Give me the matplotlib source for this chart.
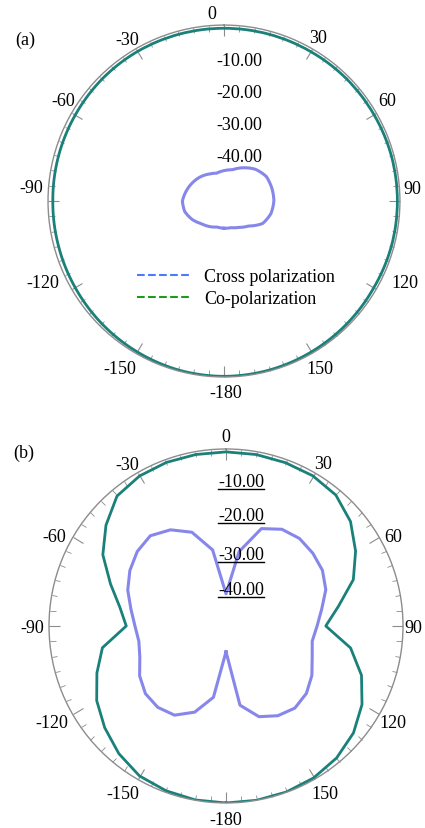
import numpy as np
import matplotlib
matplotlib.use('Agg')
import matplotlib.pyplot as plt
from matplotlib.lines import Line2D
from matplotlib import transforms

plt.rcParams['font.family'] = 'Liberation Serif'
plt.rcParams['font.size'] = 13

# (a) pattern, sampled every 15 degrees
ang_a = np.arange(-180, 181, 15)
co_a = [-0.2, -0.3, -0.6, -0.9, -1.2, -1.4, -1.5, -1.4, -1.3, -1.1, -1.0, -1.0, -1.0,
        -1.0, -1.0, -0.9, -0.9, -0.8, -0.8, -0.8, -0.9, -0.7, -0.5, -0.3, -0.2]
cross_a = [-46.5, -46.6, -45.8, -45.0, -43.5, -42.3, -42.0, -42.8, -43.6, -44.4, -45.3, -46.0, -45.5,
           -44.9, -43.0, -41.0, -39.7, -39.5, -39.4, -39.8, -41.0, -44.0, -45.5, -46.4, -46.5]

# (b) pattern, sampled every 10 degrees
ang_b = np.arange(-180, 181, 10)
co_b = [0.0, -0.1, -0.5, -1.2, -3.2, -5.8, -8.6, -12.3, -16.0, -24.0, -21.5, -16.8, -10.8, -6.3,
        -2.3, -1.2, -0.9, -0.9, -0.9, -0.9, -1.0, -1.1, -1.9, -4.5, -8.5, -12.9, -19.5, -24.0,
        -15.7, -10.2, -6.2, -3.3, -1.5, -0.5, -0.1, 0.0, 0.0]
cross_b = [-47.0, -32.5, -26.5, -23.0, -22.0, -22.3, -24.0, -26.5, -27.5, -26.7, -25.0, -22.5,
           -20.5, -19.0, -18.4, -20.5, -24.0, -31.0, -45.0, -31.5, -22.8, -20.3, -19.5, -19.8,
           -20.4, -22.0, -24.8, -26.7, -27.8, -26.5, -24.2, -22.4, -21.7, -22.8, -25.0, -30.0, -47.0]

theta_ticks = np.arange(0, 360, 30)
theta_labels = ['0', '30', '60', '90', '120', '150', '-180', '-150', '-120', '-90', '-60', '-30']
r_labels = ['-10.00', '-20.00', '-30.00', '-40.00']
rlab_pos_a = [-10, -20, -30, -40]
rlab_pos_b = [-9.3, -19.6, -32.0, -42.6]

# small pixel nudges (right, down) for the angle labels, as placed in the original
nudge_a = [(-12, 1), (-1, 0), (-1.5, -7), (-2, -14), (16.5, -15), (1, 1.5),
           (2, 1), (-9, 1.5), (-16.5, -15), (-3, -15), (3.5, -7), (-2, 1.5)]
nudge_b = [(0, 2), (1, 3), (1, 6), (-5, 1), (1, 0), (3, 0),
           (0, 1), (-7, 0), (-8, 0), (-2, 1), (-5, 6), (-3, 4)]

teal = '#1a807a'
lav = '#8787eb'
gray = '#8c8c8c'

fig = plt.figure(figsize=(4.25, 8.29), dpi=100)
ax1 = fig.add_axes([0.113, 0.544, 0.828, 0.4246], projection='polar')
ax2 = fig.add_axes([0.1153, 0.0302, 0.833, 0.427], projection='polar')


def setup(ax, rpos, nudges, dist):
    ax.set_theta_zero_location('N')
    ax.set_theta_direction(-1)
    ax.set_ylim(-55, 0)
    ax.set_thetagrids(theta_ticks)
    ax.set_xticks(np.deg2rad(np.arange(0, 360, 5)), minor=True)
    ax.set_yticks([])
    ax.grid(False)
    ax.spines['polar'].set_color(gray)
    ax.spines['polar'].set_linewidth(1.0)
    ax.tick_params(axis='x', which='both', top=True, bottom=False, direction='in', color=gray,
                   labelbottom=False, labeltop=False)
    ax.tick_params(axis='x', which='major', length=8)
    ax.tick_params(axis='x', which='minor', length=4)
    # angle labels outside the rim
    for ang, lab, (nx, ny) in zip(theta_ticks, theta_labels, nudges):
        t = np.deg2rad(ang)
        off = transforms.offset_copy(ax.transData, fig=fig, x=dist * np.sin(t) + nx,
                                     y=dist * np.cos(t) - ny - 1, units='dots')
        ax.text(t, 0, lab, ha='center', va='center', transform=off, clip_on=False)
    # radial level labels
    off = transforms.offset_copy(ax.transData, fig=fig, x=-8, y=-3, units='dots')
    texts = []
    for lab, r in zip(r_labels, rpos):
        texts.append(ax.text(0, r, lab, ha='left', va='center', transform=off))
    return texts


setup(ax1, rlab_pos_a, nudge_a, 14)
texts_b = setup(ax2, rlab_pos_b, nudge_b, 15)

la1, = ax1.plot(np.deg2rad(ang_a), co_a, color=teal, lw=2.0)
la2, = ax1.plot(np.deg2rad(ang_a), cross_a, color=lav, lw=2.2)
for ln in (la1, la2):
    ln.get_path()._interpolation_steps = 15
ax2.plot(np.deg2rad(ang_b), co_b, color=teal, lw=2.0)
ax2.plot(np.deg2rad(ang_b), cross_b, color=lav, lw=2.2)

handles = [Line2D([], [], color='#4d79ff', ls='--', lw=1.5),
           Line2D([], [], color='#1e9a1e', ls='--', lw=1.5)]
fig.legend(handles, ['Cross polarization', 'Co-polarization'], loc='upper left',
           bbox_to_anchor=(0.3015, 0.686), frameon=False, borderpad=0, handlelength=3,
           handletextpad=0.7, labelspacing=0.25)

fig.text(15 / 425, 1 - 40 / 829, '(a)', ha='left', va='center')
fig.text(13 / 425, 1 - 453 / 829, '(b)', ha='left', va='center')

# underline the radial labels of (b)
fig.canvas.draw()
for t in texts_b:
    bb = t.get_window_extent()
    fig.add_artist(Line2D([bb.x0, bb.x1], [bb.y0 + 1, bb.y0 + 1],
                          transform=transforms.IdentityTransform(), color='black', lw=1))

fig.savefig('out.png', dpi=100)
